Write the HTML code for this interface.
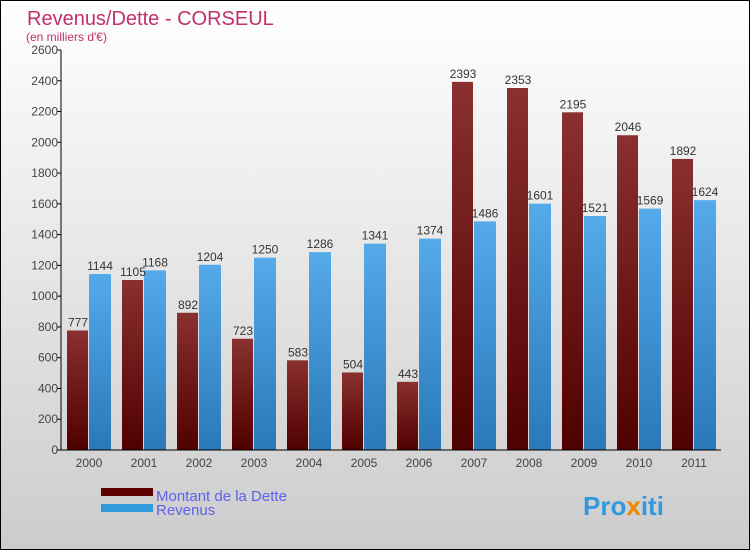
<!DOCTYPE html>
<html><head><meta charset="utf-8"><style>
body{margin:0}
#c{width:748px;height:548px;border:1px solid #000;background:linear-gradient(#fff,#ccc);position:relative;font-family:"Liberation Sans",sans-serif}
</style></head><body>
<div id="c">
<svg id="s" width="748" height="548" style="position:absolute;left:0;top:0">
<text x="26" y="24" font-size="20" fill="#c0306a">Revenus/Dette - CORSEUL</text>
<text x="25" y="40" font-size="12" fill="#c0306a">(en milliers d'€)</text>
<g id="g"></g>
<rect x="100" y="487" width="52" height="8" fill="#600000"/>
<rect x="100" y="503" width="52" height="8" fill="#3399dd"/>
<text x="155" y="500" font-size="15" fill="#6060ee">Montant de la Dette</text>
<text x="155" y="514" font-size="15" fill="#6060ee">Revenus</text>
<text x="582" y="514" font-size="26" font-weight="bold" fill="#3399dd">Pro<tspan fill="#ee8800">x</tspan>iti</text>
</svg></div>
<script>
const years=["2000","2001","2002","2003","2004","2005","2006","2007","2008","2009","2010","2011"];
const dette=[777,1105,892,723,583,504,443,2393,2353,2195,2046,1892];
const revenus=[1144,1168,1204,1250,1286,1341,1374,1486,1601,1521,1569,1624];
const ticks=[0,200,400,600,800,1000,1200,1400,1600,1800,2000,2200,2400,2600];
const g=document.getElementById('g'),NS='http://www.w3.org/2000/svg';
const x0=60,y0=449,top_=49,max=2600,bw=55;
const y=v=>y0-(v/max)*(y0-top_);
function el(t,a){const e=document.createElementNS(NS,t);for(const k in a)e.setAttribute(k,a[k]);g.appendChild(e);return e;}
const defs=el('defs',{});
defs.innerHTML='<linearGradient id="gd" x1="0" y1="0" x2="0" y2="1"><stop offset="0" stop-color="#8a3030"/><stop offset="1" stop-color="#500000"/></linearGradient><linearGradient id="gr" x1="0" y1="0" x2="0" y2="1"><stop offset="0" stop-color="#55aaea"/><stop offset="1" stop-color="#2a78b8"/></linearGradient>';
ticks.forEach(t=>{
const l=el('line',{x1:x0-4,x2:x0,y1:y(t),y2:y(t),stroke:'#000'});


const tx=el('text',{x:x0-3,y:y(t)+4,'font-size':12,'text-anchor':'end',fill:'#444'});tx.textContent=t;


});
years.forEach((yr,i)=>{
const gx=x0+i*bw;
const b1=el('rect',{x:gx+6,y:y(dette[i]),width:21,height:y0-y(dette[i]),fill:'url(#gd)'});


const b2=el('rect',{x:gx+28,y:y(revenus[i]),width:22,height:y0-y(revenus[i]),fill:'url(#gr)'});


const t1=el('text',{x:gx+17,y:y(dette[i])-4,'font-size':12,'text-anchor':'middle',fill:'#333'});t1.textContent=dette[i];


const t2=el('text',{x:gx+39,y:y(revenus[i])-4,'font-size':12,'text-anchor':'middle',fill:'#333'});t2.textContent=revenus[i];


const xl=el('text',{x:gx+28,y:466,'font-size':12,'text-anchor':'middle',fill:'#444'});xl.textContent=yr;


});
const ya=el('line',{x1:x0,x2:x0,y1:top_,y2:y0,stroke:'#000'});


const xa=el('line',{x1:x0-4,x2:x0+12*bw,y1:y0,y2:y0,stroke:'#000'});


</script>
</body></html>
